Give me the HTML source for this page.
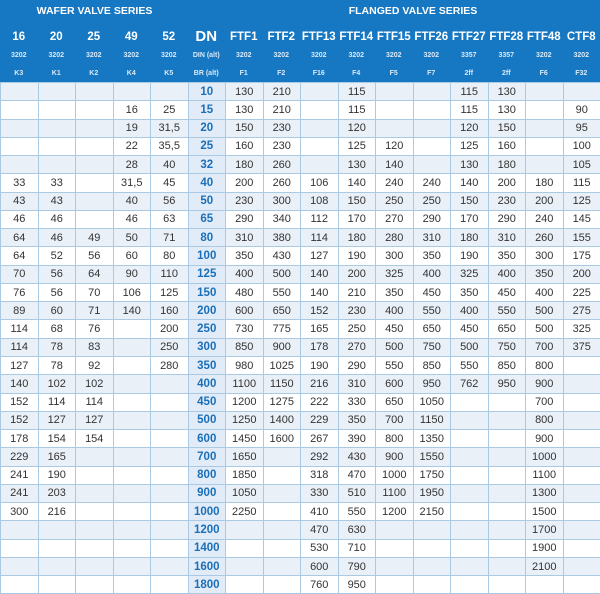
<!DOCTYPE html>
<html><head><meta charset="utf-8"><style>
body{margin:0;width:600px;height:594px;overflow:hidden;background:#fff;font-family:"Liberation Sans",sans-serif}
.hd{position:absolute;left:0;top:0;width:600px;height:82px;background:#1677c2;color:#fff}
.t{position:absolute;top:5px;font-weight:bold;font-size:10.5px;text-align:center}
.hc{position:absolute;width:37.5px;text-align:center;font-weight:bold}
.n{top:31px;font-size:11.5px}
.s{top:52px;font-size:7px;color:#dbe9f6}
.k{top:70px;font-size:7px;color:#dbe9f6}
table{position:absolute;left:0;top:82px;border-collapse:collapse;table-layout:fixed;width:600px}
td{width:37.5px;height:18.28px;padding:0;border:1px solid #aac9e2;text-align:center;font-size:11px;color:#333;box-sizing:border-box}
tr:nth-child(odd) td{background:#eaf0f8}
td.d{background:#e2ecf8!important;color:#1a6fb8;font-weight:bold;font-size:11.5px}
</style></head><body>
<div class="hd">
<div class="t" style="left:0;width:189px">WAFER VALVE SERIES</div>
<div class="t" style="left:226px;width:374px">FLANGED VALVE SERIES</div>
<div class="hc n" style="left:0">16</div><div class="hc n" style="left:37.5px">20</div><div class="hc n" style="left:75px">25</div><div class="hc n" style="left:112.5px">49</div><div class="hc n" style="left:150px">52</div><div class="hc n" style="left:187.5px;font-size:15px;top:28px">DN</div><div class="hc n" style="left:225px">FTF1</div><div class="hc n" style="left:262.5px">FTF2</div><div class="hc n" style="left:300px">FTF13</div><div class="hc n" style="left:337.5px">FTF14</div><div class="hc n" style="left:375px">FTF15</div><div class="hc n" style="left:412.5px">FTF26</div><div class="hc n" style="left:450px">FTF27</div><div class="hc n" style="left:487.5px">FTF28</div><div class="hc n" style="left:525px">FTF48</div><div class="hc n" style="left:562.5px">CTF8</div>
<div class="hc s" style="left:0">3202</div><div class="hc s" style="left:37.5px">3202</div><div class="hc s" style="left:75px">3202</div><div class="hc s" style="left:112.5px">3202</div><div class="hc s" style="left:150px">3202</div><div class="hc s" style="left:187.5px">DIN (alt)</div><div class="hc s" style="left:225px">3202</div><div class="hc s" style="left:262.5px">3202</div><div class="hc s" style="left:300px">3202</div><div class="hc s" style="left:337.5px">3202</div><div class="hc s" style="left:375px">3202</div><div class="hc s" style="left:412.5px">3202</div><div class="hc s" style="left:450px">3357</div><div class="hc s" style="left:487.5px">3357</div><div class="hc s" style="left:525px">3202</div><div class="hc s" style="left:562.5px">3202</div>
<div class="hc k" style="left:0">K3</div><div class="hc k" style="left:37.5px">K1</div><div class="hc k" style="left:75px">K2</div><div class="hc k" style="left:112.5px">K4</div><div class="hc k" style="left:150px">K5</div><div class="hc k" style="left:187.5px">BR (alt)</div><div class="hc k" style="left:225px">F1</div><div class="hc k" style="left:262.5px">F2</div><div class="hc k" style="left:300px">F16</div><div class="hc k" style="left:337.5px">F4</div><div class="hc k" style="left:375px">F5</div><div class="hc k" style="left:412.5px">F7</div><div class="hc k" style="left:450px">2ff</div><div class="hc k" style="left:487.5px">2ff</div><div class="hc k" style="left:525px">F6</div><div class="hc k" style="left:562.5px">F32</div>
</div>
<table>
<tr><td></td><td></td><td></td><td></td><td></td><td class="d">10</td><td>130</td><td>210</td><td></td><td>115</td><td></td><td></td><td>115</td><td>130</td><td></td><td></td></tr>
<tr><td></td><td></td><td></td><td>16</td><td>25</td><td class="d">15</td><td>130</td><td>210</td><td></td><td>115</td><td></td><td></td><td>115</td><td>130</td><td></td><td>90</td></tr>
<tr><td></td><td></td><td></td><td>19</td><td>31,5</td><td class="d">20</td><td>150</td><td>230</td><td></td><td>120</td><td></td><td></td><td>120</td><td>150</td><td></td><td>95</td></tr>
<tr><td></td><td></td><td></td><td>22</td><td>35,5</td><td class="d">25</td><td>160</td><td>230</td><td></td><td>125</td><td>120</td><td></td><td>125</td><td>160</td><td></td><td>100</td></tr>
<tr><td></td><td></td><td></td><td>28</td><td>40</td><td class="d">32</td><td>180</td><td>260</td><td></td><td>130</td><td>140</td><td></td><td>130</td><td>180</td><td></td><td>105</td></tr>
<tr><td>33</td><td>33</td><td></td><td>31,5</td><td>45</td><td class="d">40</td><td>200</td><td>260</td><td>106</td><td>140</td><td>240</td><td>240</td><td>140</td><td>200</td><td>180</td><td>115</td></tr>
<tr><td>43</td><td>43</td><td></td><td>40</td><td>56</td><td class="d">50</td><td>230</td><td>300</td><td>108</td><td>150</td><td>250</td><td>250</td><td>150</td><td>230</td><td>200</td><td>125</td></tr>
<tr><td>46</td><td>46</td><td></td><td>46</td><td>63</td><td class="d">65</td><td>290</td><td>340</td><td>112</td><td>170</td><td>270</td><td>290</td><td>170</td><td>290</td><td>240</td><td>145</td></tr>
<tr><td>64</td><td>46</td><td>49</td><td>50</td><td>71</td><td class="d">80</td><td>310</td><td>380</td><td>114</td><td>180</td><td>280</td><td>310</td><td>180</td><td>310</td><td>260</td><td>155</td></tr>
<tr><td>64</td><td>52</td><td>56</td><td>60</td><td>80</td><td class="d">100</td><td>350</td><td>430</td><td>127</td><td>190</td><td>300</td><td>350</td><td>190</td><td>350</td><td>300</td><td>175</td></tr>
<tr><td>70</td><td>56</td><td>64</td><td>90</td><td>110</td><td class="d">125</td><td>400</td><td>500</td><td>140</td><td>200</td><td>325</td><td>400</td><td>325</td><td>400</td><td>350</td><td>200</td></tr>
<tr><td>76</td><td>56</td><td>70</td><td>106</td><td>125</td><td class="d">150</td><td>480</td><td>550</td><td>140</td><td>210</td><td>350</td><td>450</td><td>350</td><td>450</td><td>400</td><td>225</td></tr>
<tr><td>89</td><td>60</td><td>71</td><td>140</td><td>160</td><td class="d">200</td><td>600</td><td>650</td><td>152</td><td>230</td><td>400</td><td>550</td><td>400</td><td>550</td><td>500</td><td>275</td></tr>
<tr><td>114</td><td>68</td><td>76</td><td></td><td>200</td><td class="d">250</td><td>730</td><td>775</td><td>165</td><td>250</td><td>450</td><td>650</td><td>450</td><td>650</td><td>500</td><td>325</td></tr>
<tr><td>114</td><td>78</td><td>83</td><td></td><td>250</td><td class="d">300</td><td>850</td><td>900</td><td>178</td><td>270</td><td>500</td><td>750</td><td>500</td><td>750</td><td>700</td><td>375</td></tr>
<tr><td>127</td><td>78</td><td>92</td><td></td><td>280</td><td class="d">350</td><td>980</td><td>1025</td><td>190</td><td>290</td><td>550</td><td>850</td><td>550</td><td>850</td><td>800</td><td></td></tr>
<tr><td>140</td><td>102</td><td>102</td><td></td><td></td><td class="d">400</td><td>1100</td><td>1150</td><td>216</td><td>310</td><td>600</td><td>950</td><td>762</td><td>950</td><td>900</td><td></td></tr>
<tr><td>152</td><td>114</td><td>114</td><td></td><td></td><td class="d">450</td><td>1200</td><td>1275</td><td>222</td><td>330</td><td>650</td><td>1050</td><td></td><td></td><td>700</td><td></td></tr>
<tr><td>152</td><td>127</td><td>127</td><td></td><td></td><td class="d">500</td><td>1250</td><td>1400</td><td>229</td><td>350</td><td>700</td><td>1150</td><td></td><td></td><td>800</td><td></td></tr>
<tr><td>178</td><td>154</td><td>154</td><td></td><td></td><td class="d">600</td><td>1450</td><td>1600</td><td>267</td><td>390</td><td>800</td><td>1350</td><td></td><td></td><td>900</td><td></td></tr>
<tr><td>229</td><td>165</td><td></td><td></td><td></td><td class="d">700</td><td>1650</td><td></td><td>292</td><td>430</td><td>900</td><td>1550</td><td></td><td></td><td>1000</td><td></td></tr>
<tr><td>241</td><td>190</td><td></td><td></td><td></td><td class="d">800</td><td>1850</td><td></td><td>318</td><td>470</td><td>1000</td><td>1750</td><td></td><td></td><td>1100</td><td></td></tr>
<tr><td>241</td><td>203</td><td></td><td></td><td></td><td class="d">900</td><td>1050</td><td></td><td>330</td><td>510</td><td>1100</td><td>1950</td><td></td><td></td><td>1300</td><td></td></tr>
<tr><td>300</td><td>216</td><td></td><td></td><td></td><td class="d">1000</td><td>2250</td><td></td><td>410</td><td>550</td><td>1200</td><td>2150</td><td></td><td></td><td>1500</td><td></td></tr>
<tr><td></td><td></td><td></td><td></td><td></td><td class="d">1200</td><td></td><td></td><td>470</td><td>630</td><td></td><td></td><td></td><td></td><td>1700</td><td></td></tr>
<tr><td></td><td></td><td></td><td></td><td></td><td class="d">1400</td><td></td><td></td><td>530</td><td>710</td><td></td><td></td><td></td><td></td><td>1900</td><td></td></tr>
<tr><td></td><td></td><td></td><td></td><td></td><td class="d">1600</td><td></td><td></td><td>600</td><td>790</td><td></td><td></td><td></td><td></td><td>2100</td><td></td></tr>
<tr><td></td><td></td><td></td><td></td><td></td><td class="d">1800</td><td></td><td></td><td>760</td><td>950</td><td></td><td></td><td></td><td></td><td></td><td></td></tr>
</table>
</body></html>
